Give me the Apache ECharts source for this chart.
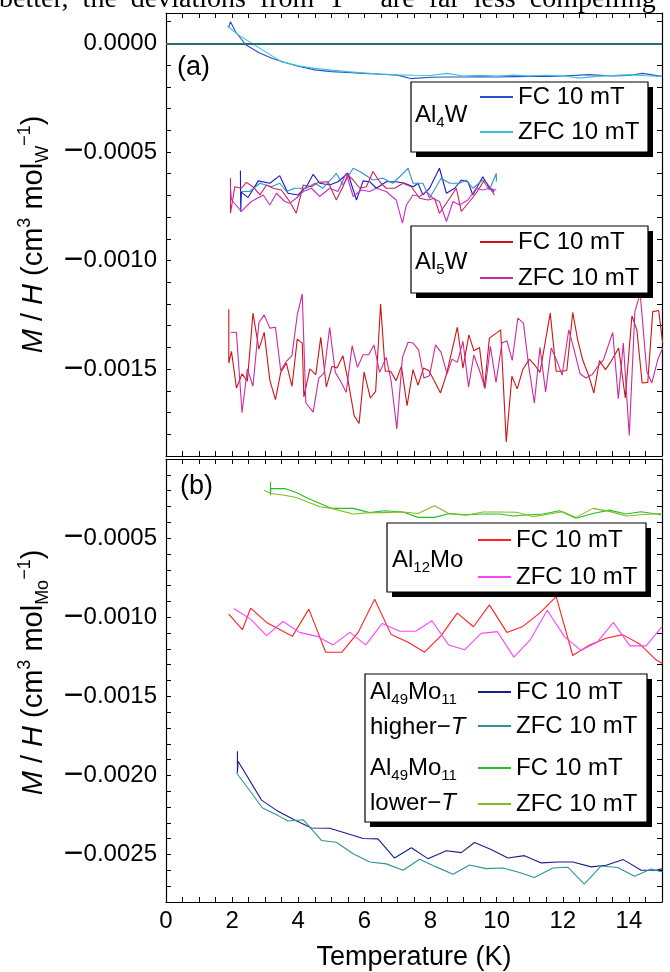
<!DOCTYPE html>
<html>
<head>
<meta charset="utf-8">
<script src="https://cdn.jsdelivr.net/npm/echarts@6/dist/echarts.min.js"></script>
<style>
html,body{margin:0;padding:0;background:#fff;}
#chart{width:670px;height:972px;}
</style>
</head>
<body>
<div id="chart"></div>
<script>
// All M/H values are in units of 1e-4 cm^3 mol^-1 ; temperatures in K.
const X_TICK_LABELS = ['0','2','4','6','8','10','12','14'];
const TOP_Y_LABELS = ['0.0000','−0.0005','−0.0010','−0.0015'];
const BOT_Y_LABELS = ['−0.0005','−0.0010','−0.0015','−0.0020','−0.0025'];
const ZERO_LEVEL = 0;

// Panel (a)
const AL4W_FC = [[1.90,0.75],[1.95,1.00],[2.10,0.55],[2.40,-0.05],[2.80,-0.42],[3.20,-0.68],[3.60,-0.88],[4.00,-1.05],[4.50,-1.22],[5.00,-1.30],[5.50,-1.34],[6.00,-1.38],[6.50,-1.42],[7.00,-1.46],[7.40,-1.62],[8.00,-1.56],[8.50,-1.55],[9.00,-1.55],[9.50,-1.54],[10.00,-1.55],[10.50,-1.53],[11.00,-1.52],[11.50,-1.52],[12.00,-1.50],[12.80,-1.44],[13.50,-1.50],[14.00,-1.48],[14.40,-1.38],[15.00,-1.52]];
const AL4W_ZFC = [[1.85,0.80],[2.20,0.38],[2.60,0.00],[3.00,-0.38],[3.50,-0.85],[4.00,-1.03],[4.50,-1.15],[5.00,-1.23],[5.50,-1.30],[6.00,-1.36],[6.50,-1.41],[7.00,-1.45],[7.50,-1.47],[8.00,-1.48],[8.50,-1.38],[9.00,-1.50],[9.50,-1.47],[10.00,-1.50],[10.50,-1.46],[11.00,-1.50],[11.50,-1.47],[12.00,-1.49],[12.50,-1.60],[13.00,-1.52],[13.50,-1.48],[14.00,-1.44],[14.50,-1.49],[15.00,-1.52]];
const AL4W_FC_B = [[2.25,-5.85],[2.26,-7.75],[2.28,-6.85],[2.48,-7.10],[2.79,-6.33],[3.14,-6.44],[3.44,-6.09],[3.69,-6.90],[3.99,-6.98],[4.25,-6.60],[4.45,-6.03],[4.65,-6.44],[4.95,-6.52],[5.20,-6.37],[5.50,-5.98],[5.76,-7.21],[5.96,-6.33],[6.16,-6.37],[6.36,-6.67],[6.66,-6.37],[6.96,-6.37],[7.22,-6.44],[7.47,-6.60],[7.62,-6.44],[7.77,-6.98],[7.97,-6.67],[8.27,-5.75],[8.48,-6.90],[8.73,-6.67],[8.93,-6.29],[9.13,-6.37],[9.28,-6.98],[9.58,-6.14],[9.78,-6.67],[9.93,-6.82]];
const AL4W_ZFC_B = [[2.25,-6.82],[2.53,-6.82],[2.84,-6.44],[3.19,-6.60],[3.44,-6.44],[3.64,-6.82],[3.89,-6.67],[4.25,-6.67],[4.50,-6.44],[4.75,-6.67],[5.15,-5.98],[5.35,-6.52],[5.66,-5.75],[5.86,-5.90],[6.26,-6.29],[6.56,-6.21],[6.86,-6.44],[7.12,-6.06],[7.32,-5.75],[7.47,-6.44],[7.77,-6.44],[7.97,-7.13],[8.17,-6.60],[8.32,-6.21],[8.58,-6.44],[8.88,-6.44],[9.08,-6.29],[9.28,-6.67],[9.58,-6.29],[9.78,-6.75],[9.99,-5.98],[9.99,-6.37]];
const AL5W_FC_B = [[1.95,-6.21],[1.95,-7.82],[2.08,-6.60],[2.28,-6.67],[2.43,-6.40],[2.63,-6.60],[2.84,-6.98],[3.04,-6.52],[3.24,-6.67],[3.49,-6.75],[3.74,-7.28],[3.94,-7.82],[4.15,-6.52],[4.40,-6.60],[4.60,-6.40],[4.90,-6.37],[5.15,-7.21],[5.35,-6.60],[5.50,-6.06],[5.66,-6.29],[5.86,-6.67],[6.06,-6.60],[6.26,-5.90],[6.46,-6.37],[6.66,-6.67],[6.91,-6.67],[7.17,-6.44],[7.42,-6.60],[7.67,-7.13],[7.92,-7.21],[8.12,-7.13],[8.27,-7.82],[8.58,-7.13],[8.78,-6.67],[8.93,-7.74],[9.18,-7.28],[9.38,-6.90],[9.63,-6.29],[9.78,-6.60],[9.93,-6.98]];
const AL5W_ZFC_B = [[1.95,-6.60],[1.98,-7.20],[2.28,-7.74],[2.58,-7.28],[2.94,-6.98],[3.14,-7.44],[3.34,-6.90],[3.59,-7.28],[3.74,-7.36],[3.94,-7.13],[4.15,-6.82],[4.40,-6.67],[4.65,-7.05],[4.95,-6.67],[5.20,-6.82],[5.45,-5.98],[5.66,-7.05],[5.91,-6.75],[6.16,-6.82],[6.36,-6.67],[6.66,-6.82],[6.96,-7.21],[7.15,-8.28],[7.27,-7.44],[7.47,-6.98],[7.67,-7.05],[7.87,-6.82],[8.07,-7.13],[8.27,-7.28],[8.48,-8.20],[8.68,-7.28],[8.88,-7.44],[9.13,-7.21],[9.38,-6.67],[9.58,-6.75],[9.78,-6.67],[9.99,-6.75]];
const AL5W_FC = [[1.90,-12.24],[1.90,-14.72],[1.98,-14.18],[2.13,-15.87],[2.30,-15.22],[2.46,-15.56],[2.63,-12.42],[2.81,-14.08],[2.97,-13.31],[3.14,-15.51],[3.31,-16.40],[3.47,-15.15],[3.64,-14.72],[3.81,-15.79],[3.97,-13.62],[4.12,-13.80],[4.17,-16.28],[4.35,-14.99],[4.53,-15.25],[4.68,-13.54],[4.85,-15.82],[5.02,-14.87],[5.17,-14.95],[5.35,-14.38],[5.50,-15.48],[5.69,-17.14],[5.84,-17.50],[5.99,-15.13],[6.18,-16.33],[6.34,-16.02],[6.49,-12.00],[6.63,-15.10],[6.79,-15.10],[6.96,-15.53],[7.12,-14.87],[7.29,-16.68],[7.47,-15.02],[7.62,-15.74],[7.79,-14.95],[7.95,-15.07],[8.12,-15.56],[8.30,-16.10],[8.48,-15.25],[8.65,-14.14],[8.81,-13.07],[8.98,-14.95],[9.16,-13.42],[9.31,-14.15],[9.48,-14.00],[9.63,-15.87],[9.78,-13.57],[10.12,-13.19],[10.29,-18.35],[10.46,-15.33],[10.62,-15.91],[10.79,-15.02],[10.99,-14.54],[11.16,-14.83],[11.31,-15.15],[11.62,-12.42],[11.80,-15.10],[11.95,-15.10],[12.12,-15.06],[12.30,-12.39],[12.45,-13.65],[12.60,-14.57],[12.79,-15.33],[12.94,-16.10],[13.11,-14.61],[13.29,-15.02],[13.46,-14.64],[13.69,-14.03],[13.89,-16.33],[14.09,-12.55],[14.24,-13.19],[14.40,-15.64],[14.57,-15.61],[14.72,-12.35],[14.90,-12.30],[15.02,-13.80]];
const AL5W_ZFC = [[1.96,-13.30],[2.13,-13.31],[2.30,-17.01],[2.46,-14.99],[2.63,-15.79],[2.81,-12.85],[2.97,-12.50],[3.14,-13.11],[3.31,-13.07],[3.47,-15.07],[3.64,-14.64],[3.81,-14.38],[3.97,-12.50],[4.12,-11.54],[4.23,-16.56],[4.45,-16.98],[4.62,-15.41],[4.78,-15.18],[4.95,-13.08],[5.12,-15.15],[5.28,-15.56],[5.45,-16.07],[5.63,-13.92],[5.79,-14.92],[5.96,-14.34],[6.13,-14.34],[6.29,-13.89],[6.46,-15.15],[6.66,-14.46],[6.81,-15.56],[6.98,-17.75],[7.15,-14.46],[7.32,-13.76],[7.47,-13.80],[7.64,-14.11],[7.80,-15.41],[7.97,-15.30],[8.15,-13.88],[8.32,-14.23],[8.50,-15.22],[8.65,-14.54],[8.81,-14.69],[8.98,-13.72],[9.15,-15.82],[9.31,-14.35],[9.48,-15.06],[9.65,-15.90],[9.81,-13.95],[9.98,-15.61],[10.16,-13.80],[10.31,-13.69],[10.47,-14.60],[10.64,-12.65],[10.81,-12.88],[10.97,-14.87],[11.14,-16.56],[11.31,-14.00],[11.48,-16.05],[11.65,-14.03],[11.82,-14.61],[11.98,-15.28],[12.18,-13.19],[12.33,-14.03],[12.52,-15.21],[12.70,-15.41],[12.89,-15.25],[13.06,-14.87],[13.23,-14.57],[13.51,-13.31],[13.68,-16.36],[13.83,-13.80],[14.01,-18.05],[14.18,-12.35],[14.34,-11.51],[14.54,-15.10],[14.69,-15.64],[14.87,-14.57],[15.02,-14.03]];

// Panel (b)
const AL12MO_FC = [[1.90,-9.81],[2.31,-10.79],[2.56,-9.43],[3.04,-10.33],[3.82,-11.21],[4.32,-9.49],[4.83,-12.21],[5.32,-12.21],[5.81,-10.96],[6.31,-8.87],[6.81,-11.10],[7.32,-11.58],[7.82,-12.21],[8.32,-11.16],[8.81,-9.74],[9.30,-10.60],[9.78,-9.22],[10.31,-10.96],[10.79,-10.58],[11.30,-9.74],[11.80,-8.70],[12.30,-12.42],[12.81,-11.75],[13.31,-11.33],[13.81,-11.10],[14.32,-11.69],[14.82,-12.69],[15.02,-12.94]];
const AL12MO_ZFC = [[2.05,-9.45],[2.56,-10.12],[3.04,-11.16],[3.54,-10.27],[4.04,-10.96],[4.57,-11.21],[5.05,-11.75],[5.56,-10.96],[6.04,-11.75],[6.54,-10.39],[7.07,-10.89],[7.55,-10.89],[8.04,-10.22],[8.55,-11.75],[9.03,-12.06],[9.53,-11.02],[10.02,-10.91],[10.52,-12.52],[11.02,-11.41],[11.53,-9.56],[12.05,-11.23],[12.55,-12.10],[13.04,-11.58],[13.53,-10.33],[14.03,-11.81],[14.52,-11.81],[15.00,-10.60]];
const AL49_HI_FC = [[2.16,-18.47],[2.16,-19.83],[2.18,-19.10],[2.89,-21.56],[3.39,-22.27],[3.89,-22.82],[4.40,-23.32],[4.95,-23.34],[5.45,-23.65],[5.96,-23.99],[6.41,-24.01],[6.91,-25.22],[7.42,-24.57],[7.92,-25.26],[8.48,-24.76],[8.93,-24.88],[9.33,-24.24],[9.83,-24.68],[10.34,-25.22],[10.84,-25.07],[11.35,-25.53],[11.85,-25.47],[12.30,-25.47],[12.86,-25.78],[13.31,-25.68],[13.83,-25.32],[14.37,-25.99],[14.82,-25.99],[15.02,-25.89]];
const AL49_HI_ZFC = [[2.13,-19.83],[2.92,-22.06],[3.39,-22.54],[3.69,-22.88],[4.15,-22.80],[4.70,-24.11],[5.15,-24.22],[5.66,-24.95],[6.16,-25.47],[6.66,-25.59],[7.17,-25.99],[7.67,-25.30],[8.17,-25.78],[8.68,-26.24],[9.18,-25.66],[9.68,-25.89],[10.19,-25.85],[10.69,-26.14],[11.14,-26.45],[11.70,-25.85],[12.15,-25.80],[12.65,-26.87],[13.16,-25.72],[13.66,-25.82],[14.17,-26.37],[14.67,-25.91],[15.02,-26.10]];
const AL49_LO_FC = [[3.16,-1.45],[3.16,-2.29],[3.17,-1.87],[3.59,-1.87],[3.94,-2.12],[4.30,-2.50],[5.00,-3.12],[5.66,-3.12],[6.16,-3.39],[6.61,-3.27],[7.17,-3.35],[7.62,-3.69],[8.12,-3.69],[8.58,-3.44],[9.08,-3.52],[9.58,-3.48],[10.09,-3.48],[10.49,-3.60],[10.89,-3.54],[11.40,-3.48],[11.90,-3.27],[12.40,-3.75],[12.91,-3.44],[13.41,-3.23],[13.91,-3.48],[14.37,-3.33],[14.97,-3.52]];
const AL49_LO_ZFC = [[2.97,-1.97],[3.16,-2.18],[3.59,-2.29],[3.94,-2.43],[4.65,-3.02],[5.00,-3.12],[5.66,-3.48],[6.16,-3.39],[6.61,-3.39],[7.17,-3.35],[7.62,-3.44],[8.12,-2.95],[8.58,-3.48],[9.08,-3.56],[9.58,-3.35],[10.09,-3.35],[10.59,-3.37],[11.09,-3.64],[11.60,-3.48],[12.00,-3.33],[12.40,-3.69],[12.91,-3.12],[13.41,-3.31],[13.91,-3.60],[14.37,-3.52],[14.97,-3.44]];

const FONT = '"Liberation Sans", Arial, Helvetica, sans-serif';
const chart = echarts.init(document.getElementById('chart'), null, {renderer: 'canvas'});

function line(name, data, color, panel, extra) {
  return Object.assign({
    name: name, type: 'line', data: data,
    xAxisIndex: panel, yAxisIndex: panel,
    symbol: 'none', showSymbol: false, animation: false, silent: true,
    lineStyle: {color: color, width: 1.1}, itemStyle: {color: color}, z: 2
  }, extra || {});
}

function xAx(grid, pos, withLabels) {
  return {
    type: 'value', gridIndex: grid, position: pos, min: 0, max: 15, interval: 0.5,
    axisLine: {show: true, onZero: false, lineStyle: {color: '#000', width: 1.2}},
    axisTick: {show: true, inside: true, length: 5, lineStyle: {color: '#000', width: 1}},
    splitLine: {show: false},
    axisLabel: {
      show: withLabels, margin: 7, color: '#000', fontFamily: FONT, fontSize: 24,
      formatter: v => {
        const s = String(v);
        return X_TICK_LABELS.indexOf(s) >= 0 ? s : '';
      }
    },
    name: withLabels ? 'Temperature (K)' : '', nameLocation: 'middle', nameGap: 42,
    nameTextStyle: {color: '#000', fontFamily: FONT, fontSize: 27, lineHeight: 27}
  };
}

const yRich = {
  i: {fontStyle: 'italic', fontSize: 29, fontFamily: FONT, color: '#000', lineHeight: 36},
  n: {fontSize: 29, fontFamily: FONT, color: '#000', lineHeight: 36},
  sup: {fontSize: 18, fontFamily: FONT, color: '#000', verticalAlign: 'top', lineHeight: 22},
  sub: {fontSize: 18, fontFamily: FONT, color: '#000', verticalAlign: 'bottom', lineHeight: 22}
};
const tickRich = {
  m: {fontSize: 34, fontFamily: FONT, color: '#000'},
  d: {fontSize: 24, fontFamily: FONT, color: '#000'}
};

function yAx(grid, pos, min, max, labels, name, pad) {
  return {
    type: 'value', gridIndex: grid, position: pos, min: min, max: max, interval: 1,
    axisLine: {show: true, onZero: false, lineStyle: {color: '#000', width: 1.2}},
    axisTick: {show: true, inside: true, length: 5, lineStyle: {color: '#000', width: 1}},
    splitLine: {show: false},
    axisLabel: {
      show: !!labels, margin: 9, color: '#000', fontFamily: FONT, fontSize: 24, rich: tickRich,
      formatter: v => {
        if (!labels) return '';
        if (Math.abs(v - Math.round(v)) > 1e-6) return '';
        const r = Math.round(v);
        if (r % 5 !== 0) return '';
        const s = r === 0 ? '0.0000' : '−' + (Math.abs(r) / 10000).toFixed(4);
        if (labels.indexOf(s) < 0) return '';
        return s.charAt(0) === '−' ? '{m|−}{d|' + s.slice(1) + '}' : '{d|' + s + '}';
      }
    },
    name: name || '', nameLocation: 'middle', nameRotate: 90, nameGap: 114,
    nameTextStyle: {color: '#000', fontFamily: FONT, fontSize: 29, lineHeight: 36, rich: yRich, padding: pad || 0}
  };
}

const legendFmt = n => (n.indexOf('ZFC') >= 0 ? 'ZFC 10 mT' : 'FC 10 mT');
function leg(names, left, top, gap) {
  return {
    show: true, orient: 'vertical', left: left, top: top, itemGap: gap,
    itemWidth: 33, itemHeight: 2, icon: 'rect', padding: 0, data: names, formatter: legendFmt,
    selectedMode: false, z: 20,
    textStyle: {fontFamily: FONT, fontSize: 24, color: '#000', lineHeight: 24}
  };
}

const labRich = {
  sub: {fontSize: 15, fontFamily: FONT, fill: '#000', verticalAlign: 'bottom', lineHeight: 30},
  i: {fontStyle: 'italic', fontSize: 24, fontFamily: FONT, fill: '#000', lineHeight: 24}
};
function lab(txt, x, y) {
  return {type: 'text', x: x, y: y, z: 12, silent: true,
    style: {text: txt, font: '24px ' + FONT, fill: '#000', verticalAlign: 'middle', align: 'left', rich: labRich}};
}
function box(x, y, w, h) {
  return [
    {type: 'rect', z: 10, silent: true, shape: {x: x + 5, y: y + 5, width: w, height: h},
      style: {fill: '#000', stroke: null}},
    {type: 'rect', z: 11, silent: true, shape: {x: x, y: y, width: w, height: h},
      style: {fill: '#fff', stroke: '#000', lineWidth: 1.2}}
  ];
}

const option = {
  backgroundColor: '#fff',
  animation: false,
  grid: [
    {left: 166, right: 8, top: 13, height: 443, containLabel: false},
    {left: 166, right: 8, top: 459, height: 447, containLabel: false}
  ],
  xAxis: [xAx(0, 'bottom', false), xAx(1, 'bottom', true), xAx(0, 'top', false), xAx(1, 'top', false)],
  yAxis: [
    yAx(0, 'left', -19, 1.4, TOP_Y_LABELS, '{i|M}{n| / }{i|H}{n| (cm}{sup|3}{n| mol}{sub|W}{sup|−1}{n|)}'),
    yAx(1, 'left', -28, 0, BOT_Y_LABELS, '{i|M}{n| / }{i|H}{n| (cm}{sup|3}{n| mol}{sub|Mo}{sup|−1}{n|)}', [0, 0, 0, 16]),
    yAx(0, 'right', -19, 1.4, null, ''),
    yAx(1, 'right', -28, 0, null, '')
  ],
  legend: [
    leg(['Al4W FC', 'Al4W ZFC'], 480, 85, 11),
    leg(['Al5W FC', 'Al5W ZFC'], 480, 230, 12),
    leg(['Al12Mo FC', 'Al12Mo ZFC'], 478, 528, 13),
    leg(['Al49Mo11 hi FC', 'Al49Mo11 hi ZFC'], 478, 680, 10),
    leg(['Al49Mo11 lo FC', 'Al49Mo11 lo ZFC'], 478, 756, 12)
  ],
  series: [
    line('Al4W FC', AL4W_FC, '#2a4bd0', 0, {
      markLine: {silent: true, symbol: ['none', 'none'], animation: false, label: {show: false},
        lineStyle: {color: '#2a6e6e', width: 2, type: 'solid'}, data: [{yAxis: ZERO_LEVEL}]}
    }),
    line('Al4W ZFC', AL4W_ZFC, '#35c4d4', 0),
    line('Al4W FC b', AL4W_FC_B, '#1a1acc', 0),
    line('Al4W ZFC b', AL4W_ZFC_B, '#2b96d6', 0),
    line('Al5W FC b', AL5W_FC_B, '#d2204f', 0),
    line('Al5W ZFC b', AL5W_ZFC_B, '#c92fc5', 0),
    line('Al5W FC', AL5W_FC, '#cc1414', 0),
    line('Al5W ZFC', AL5W_ZFC, '#cc2a9f', 0),
    line('Al12Mo FC', AL12MO_FC, '#ff2222', 1),
    line('Al12Mo ZFC', AL12MO_ZFC, '#ff44ff', 1),
    line('Al49Mo11 hi FC', AL49_HI_FC, '#1c1c8c', 1),
    line('Al49Mo11 hi ZFC', AL49_HI_ZFC, '#2b9595', 1),
    line('Al49Mo11 lo FC', AL49_LO_FC, '#22c022', 1),
    line('Al49Mo11 lo ZFC', AL49_LO_ZFC, '#84bb22', 1)
  ],
  graphic: [].concat(
    [
      {type: 'text', x: -1, y: 14, z: 12, silent: true,
        style: {text: 'better,  the  deviations  from  T     are  far  less  compelling', font: '28px "Liberation Serif", serif', fill: '#000', verticalAlign: 'bottom'}},
      {type: 'text', x: 177, y: 68, z: 12, silent: true, style: {text: '(a)', font: '27px ' + FONT, fill: '#000', verticalAlign: 'middle'}},
      {type: 'text', x: 180, y: 487, z: 12, silent: true, style: {text: '(b)', font: '27px ' + FONT, fill: '#000', verticalAlign: 'middle'}}
    ],
    box(411, 82, 237, 70),
    box(411, 226, 237, 67),
    box(387, 523, 259, 69),
    box(365, 674, 282, 148),
    [
      lab('Al{sub|4}W', 415, 115),
      lab('Al{sub|5}W', 415, 262),
      lab('Al{sub|12}Mo', 392, 560),
      lab('Al{sub|49}Mo{sub|11}', 370, 692),
      lab('higher−{i|T}', 370, 727),
      lab('Al{sub|49}Mo{sub|11}', 370, 768),
      lab('lower−{i|T}', 370, 803)
    ]
  )
};
chart.setOption(option);
</script>
</body>
</html>
